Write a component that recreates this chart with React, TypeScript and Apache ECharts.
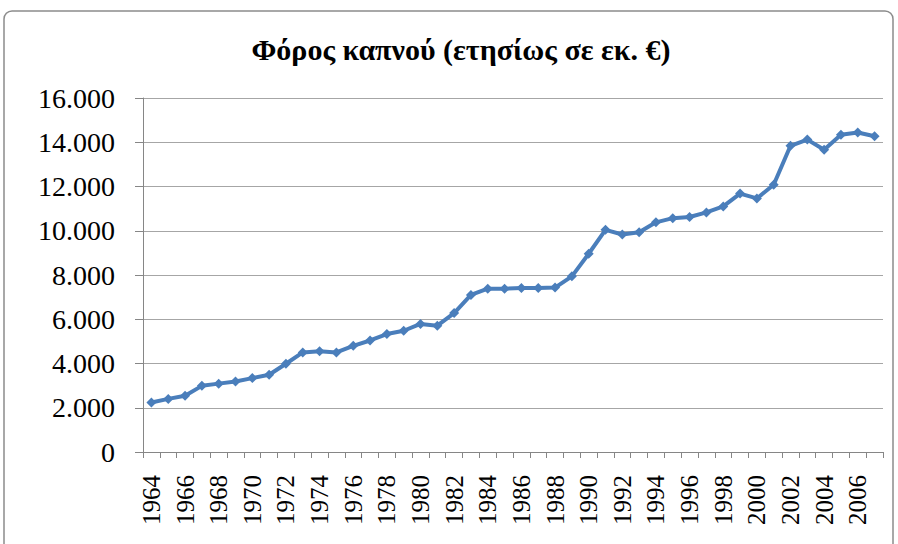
import React, { useEffect, useRef } from "react";
import * as echarts from "echarts";

const years: string[] = [
  "1964","1965","1966","1967","1968","1969","1970","1971","1972","1973",
  "1974","1975","1976","1977","1978","1979","1980","1981","1982","1983",
  "1984","1985","1986","1987","1988","1989","1990","1991","1992","1993",
  "1994","1995","1996","1997","1998","1999","2000","2001","2002","2003",
  "2004","2005","2006","2007",
];

const taxValues: number[] = [
  2240, 2400, 2540, 2990, 3090, 3190, 3340, 3490, 3990, 4500,
  4550, 4500, 4800, 5040, 5330, 5480, 5790, 5710, 6280, 7100,
  7380, 7380, 7410, 7410, 7430, 7940, 8960, 10040, 9830, 9930,
  10380, 10570, 10620, 10830, 11100, 11680, 11460, 12080, 13840, 14120,
  13660, 14340, 14440, 14270,
];

const titleText = "Φόρος καπνού (ετησίως σε εκ. €)";

export default function App() {
  const ref = useRef<HTMLDivElement>(null);
  useEffect(() => {
    document.body.style.margin = "0";
    if (!ref.current) return;
    const chart = echarts.init(ref.current, undefined, { renderer: "svg" });
    const serif = "'Liberation Serif', 'DejaVu Serif', serif";
    chart.setOption({
      animation: false,
      backgroundColor: "#ffffff",
      title: {
        text: titleText,
        left: 456,
        textAlign: "center",
        top: 29,
        textStyle: { fontFamily: serif, fontWeight: "bold", fontSize: 30, color: "#000" },
      },
      graphic: [
        {
          type: "rect",
          shape: { x: 4, y: 11, width: 889, height: 545, r: 8 },
          style: { fill: "none", stroke: "#8c8c8c", lineWidth: 1.5 },
          silent: true,
        },
      ],
      grid: { left: 143, right: 15, top: 98, bottom: 92, containLabel: false, outerBoundsMode: "none" },
      xAxis: {
        type: "category",
        data: years,
        boundaryGap: true,
        axisLine: { lineStyle: { color: "#868686", width: 1 } },
        axisTick: { show: true, interval: 0, length: 6, alignWithLabel: false, lineStyle: { color: "#868686" } },
        axisLabel: {
          interval: 1,
          rotate: 90,
          margin: 23,
          fontFamily: serif,
          fontSize: 25,
          color: "#000",
        },
      },
      yAxis: {
        type: "value",
        min: 0,
        max: 16000,
        interval: 2000,
        axisLine: { show: true, lineStyle: { color: "#868686", width: 1 } },
        axisTick: { show: true, length: 8, lineStyle: { color: "#868686" } },
        splitLine: { lineStyle: { color: "#a6a6a6", width: 1.2 } },
        axisLabel: {
          margin: 28,
          fontFamily: serif,
          fontSize: 28,
          color: "#000",
          formatter: (v: number) => (v === 0 ? "0" : String(v / 1000) + ".000"),
        },
      },
      series: [
        {
          type: "line",
          data: taxValues,
          symbol: "diamond",
          symbolSize: 10,
          showSymbol: true,
          lineStyle: { color: "#4a7ebb", width: 4 },
          itemStyle: { color: "#4a7ebb" },
        },
      ],
    });
    return () => chart.dispose();
  }, []);
  return <div ref={ref} style={{ width: 898, height: 544 }} />;
}
